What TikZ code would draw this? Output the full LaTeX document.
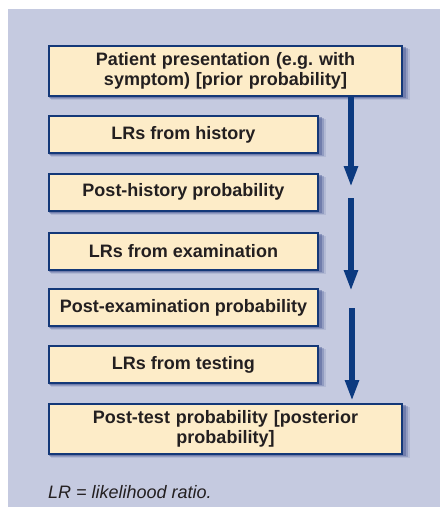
\documentclass[tikz,border=0pt]{standalone}
\usepackage{fontspec}
\setmainfont{Liberation Sans}
\usetikzlibrary{arrows.meta}
\frenchspacing
\definecolor{bgcol}{HTML}{C5CAE0}
\definecolor{boxfill}{HTML}{FDECC8}
\definecolor{boxline}{HTML}{143878}
\definecolor{arrowcol}{HTML}{0C3A80}
\definecolor{txtcol}{HTML}{231F20}
\definecolor{shadowcol}{HTML}{4A5A95}
\tikzset{
  stepbox/.style={draw=boxline, line width=2pt, fill=boxfill, inner sep=0pt,
    align=center, text=txtcol,
    font=\fontsize{18pt}{20pt}\selectfont\bfseries},
  smallbox/.style={stepbox, minimum width=269pt, minimum height=37pt},
  widebox/.style={stepbox, minimum width=353pt, minimum height=50pt, text width=340pt},
  flowarrow/.style={draw=arrowcol, line width=6pt,
    -{Triangle[length=21pt,width=13pt]}},
}
\newcommand{\boxshadow}[1]{%
  \fill[shadowcol, opacity=0.45] ([xshift=1pt,yshift=-1pt]#1.south west) rectangle ([xshift=3pt,yshift=-2pt]#1.north east);
  \fill[shadowcol, opacity=0.3] ([xshift=2pt,yshift=-2pt]#1.south west) rectangle ([xshift=5pt,yshift=-3pt]#1.north east);
  \fill[shadowcol, opacity=0.15] ([xshift=3pt,yshift=-3pt]#1.south west) rectangle ([xshift=7pt,yshift=-4pt]#1.north east);
}
\begin{document}
\begin{tikzpicture}[x=1pt,y=1pt]
\useasboundingbox (0,0) rectangle (440,-507);
\fill[white] (0,0) rectangle (440,-507);
\fill[bgcol] (8,-9) rectangle (440,-507);

% phantom nodes for shadows
\path node[widebox, draw=none, fill=none, text opacity=0] (s1) at (225.5,-71) {Patient presentation (e.g. with\\symptom) [prior probability]};
\path node[smallbox, draw=none, fill=none, text opacity=0] (s2) at (183.5,-134.5) {LRs from history};
\path node[smallbox, draw=none, fill=none, text opacity=0] (s3) at (183.5,-192) {Post-history probability};
\path node[smallbox, draw=none, fill=none, text opacity=0] (s4) at (183.5,-251) {LRs from examination};
\path node[smallbox, draw=none, fill=none, text opacity=0] (s5) at (183.5,-307.5) {Post-examination probability};
\path node[smallbox, draw=none, fill=none, text opacity=0] (s6) at (183.5,-364.5) {LRs from testing};
\path node[widebox, draw=none, fill=none, text opacity=0] (s7) at (225.5,-428.5) {Post-test probability [posterior\\probability]};
\boxshadow{s1}\boxshadow{s2}\boxshadow{s3}\boxshadow{s4}\boxshadow{s5}\boxshadow{s6}\boxshadow{s7}

\node[widebox] (b1) at (225.5,-71) {Patient presentation (e.g. with\\symptom) [prior probability]};
\node[smallbox] (b2) at (183.5,-134.5) {LRs from history};
\node[smallbox] (b3) at (183.5,-192) {Post-history probability};
\node[smallbox] (b4) at (183.5,-251) {LRs from examination};
\node[smallbox] (b5) at (183.5,-307.5) {Post-examination probability};
\node[smallbox] (b6) at (183.5,-364.5) {LRs from testing};
\node[widebox] (b7) at (225.5,-428.5) {Post-test probability [posterior\\probability]};

\coordinate (a1s) at (351,-97);
\coordinate (a1e) at (351,-187);
\coordinate (a2s) at (351,-198);
\coordinate (a2e) at (351,-291);
\coordinate (a3s) at (352,-308);
\coordinate (a3e) at (352,-401);
\draw[flowarrow] (a1s) -- (a1e);
\draw[flowarrow] (a2s) -- (a2e);
\draw[flowarrow] (a3s) -- (a3e);

\node[anchor=base west, inner sep=0pt, text=txtcol, font=\fontsize{18pt}{20pt}\selectfont\itshape] (note) at (48,-498) {LR = likelihood ratio.};
\end{tikzpicture}
\end{document}
